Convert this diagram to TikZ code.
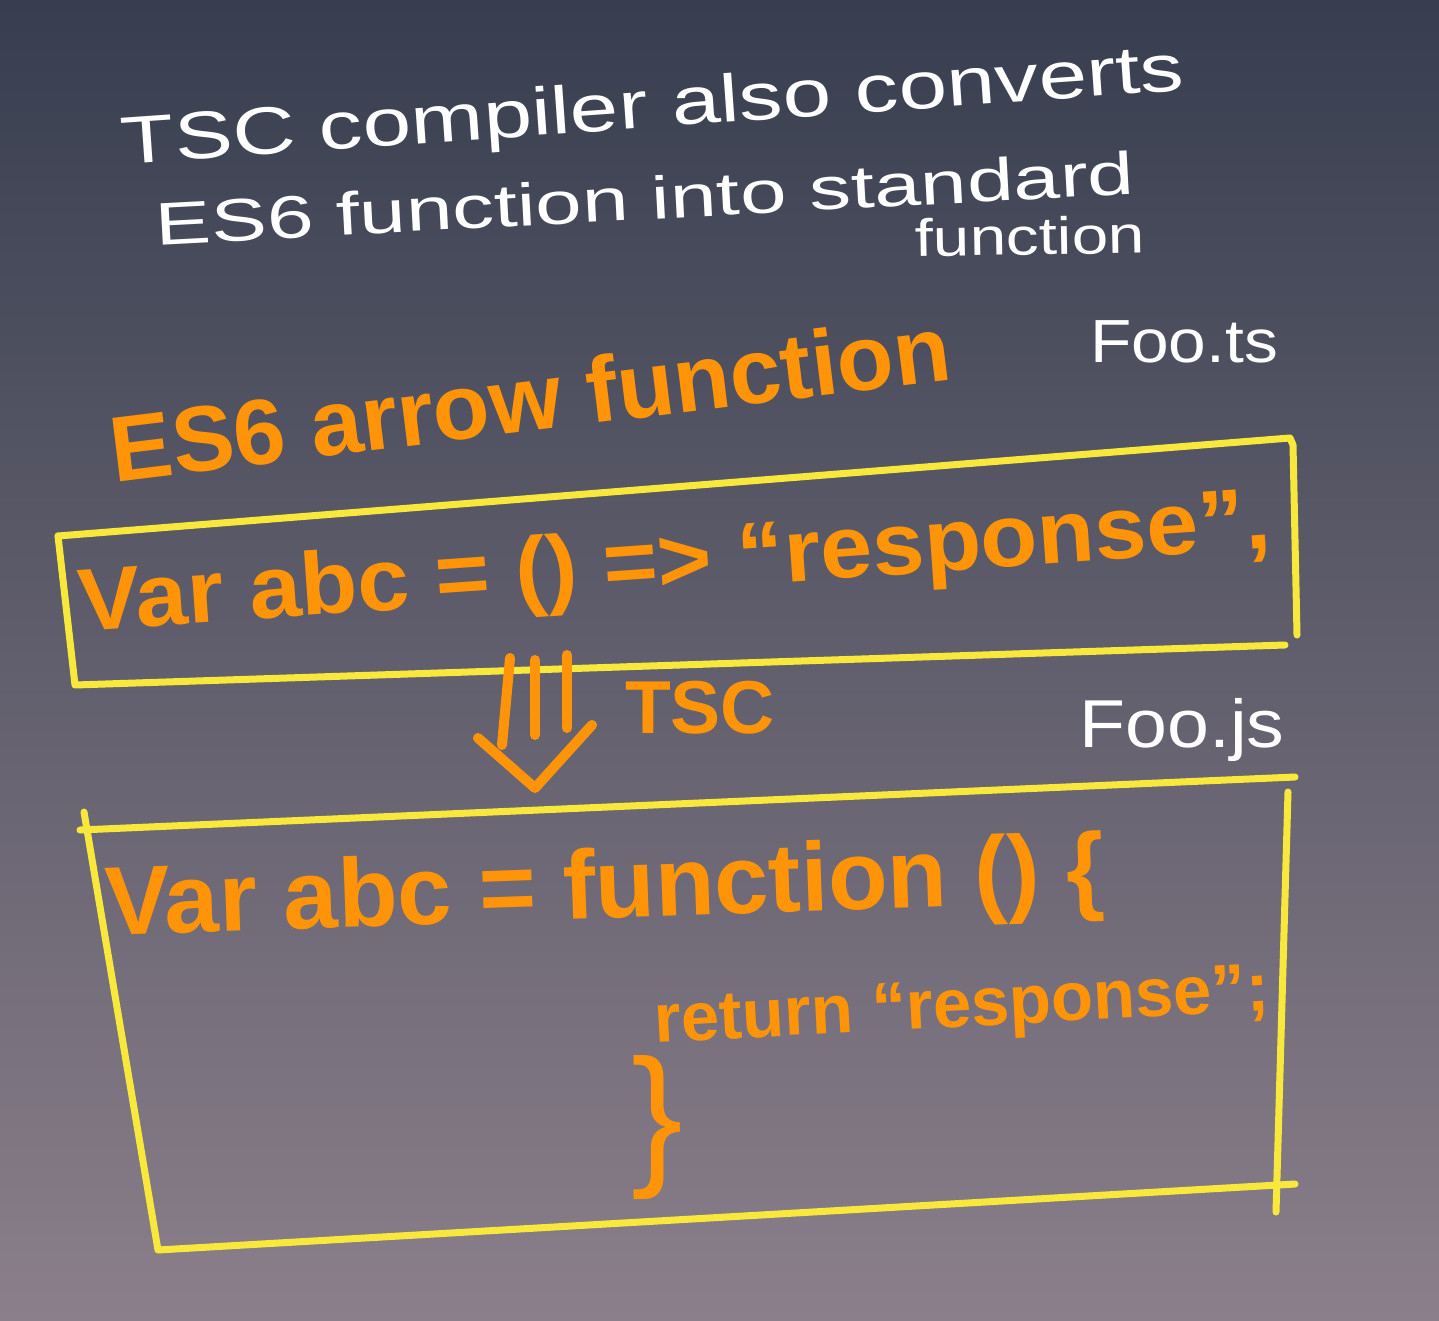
\documentclass[tikz,border=0pt]{standalone}
\usepackage{fontspec}
\setmainfont{Liberation Sans}
\usepackage{graphicx}
\definecolor{org}{HTML}{FF9408}
\definecolor{yel}{HTML}{F8E83C}
\definecolor{bgtop}{HTML}{373E4F}
\definecolor{bgbot}{HTML}{8B7F8B}
\newcommand\fitws[3]{\scalebox{1}[#2]{\resizebox{#1}{!}{#3}}}
\tikzset{
  wtxt/.style={text=white, inner sep=0pt, font=\fontsize{40}{40}\selectfont},
  otxt/.style={text=org, inner sep=0pt, font=\bfseries\fontsize{40}{40}\selectfont},
  ybox/.style={draw=yel, line width=7pt, line cap=round, line join=round},
  ostroke/.style={draw=org, line width=10pt, line cap=round, line join=round}
}
\begin{document}
\begin{tikzpicture}[x=1pt,y=-1pt]
\shade[top color=bgtop, bottom color=bgbot] (0,0) rectangle (1439,1321);
\useasboundingbox (0,0) rectangle (1439,1321);

% white header
\node[wtxt, rotate=4] (h1) at (653,110) {\fitws{1065pt}{0.77}{TSC compiler also converts}};
\node[wtxt, rotate=3] (h2) at (645,198) {\fitws{980pt}{0.72}{ES6 function into standard}};
\node[wtxt, rotate=1] (h3) at (1030,236) {\fitws{230pt}{0.8}{function}};
\node[wtxt] (foots) at (1184,342) {\fitws{188pt}{0.9}{Foo.ts}};

% orange title
\node[otxt, rotate=7] (title) at (530,398) {\fitws{845pt}{1.0}{ES6 arrow function}};

% box 1
\draw[ybox] (58,536) -- (1290,438) -- (1293,445) -- (1297,635);
\draw[ybox] (58,536) -- (75,685) -- (1285,645);
\node[otxt, rotate=4] (code1) at (675,567) {\fitws{1195pt}{0.95}{Var abc = () => “response”,}};

% TSC arrow
\coordinate (a1t) at (510,658); \coordinate (a1b) at (502,745);
\coordinate (a2t) at (535,660); \coordinate (a2b) at (535,735);
\coordinate (a3t) at (567,655); \coordinate (a3b) at (567,728);
\coordinate (vl) at (478,738); \coordinate (vm) at (535,788); \coordinate (vr) at (592,725);
\draw[ostroke] (a1t) -- (a1b);
\draw[ostroke] (a2t) -- (a2b);
\draw[ostroke] (a3t) -- (a3b);
\draw[ostroke] (vl) -- (vm) -- (vr);
\node[otxt] (tsc) at (700,708) {\fitws{150pt}{1.0}{TSC}};
\node[wtxt] (foojs) at (1182,730) {\fitws{205pt}{0.9}{Foo.js}};

% box 2
\draw[ybox] (80,830) -- (1295,777);
\draw[ybox] (84,812) -- (158,1250) -- (1295,1184);
\draw[ybox] (1288,792) -- (1276,1212);
\node[otxt, rotate=2] (code2a) at (605,893) {\fitws{1000pt}{1.0}{Var abc = function () \{}};
\node[otxt, rotate=3] (code2b) at (962,1010) {\fitws{615pt}{1.0}{return “response”;}};
\node[otxt, font=\fontsize{40}{40}\selectfont] (code2c) at (657,1128) {\resizebox{!}{112pt}{\}}};
\end{tikzpicture}
\end{document}
